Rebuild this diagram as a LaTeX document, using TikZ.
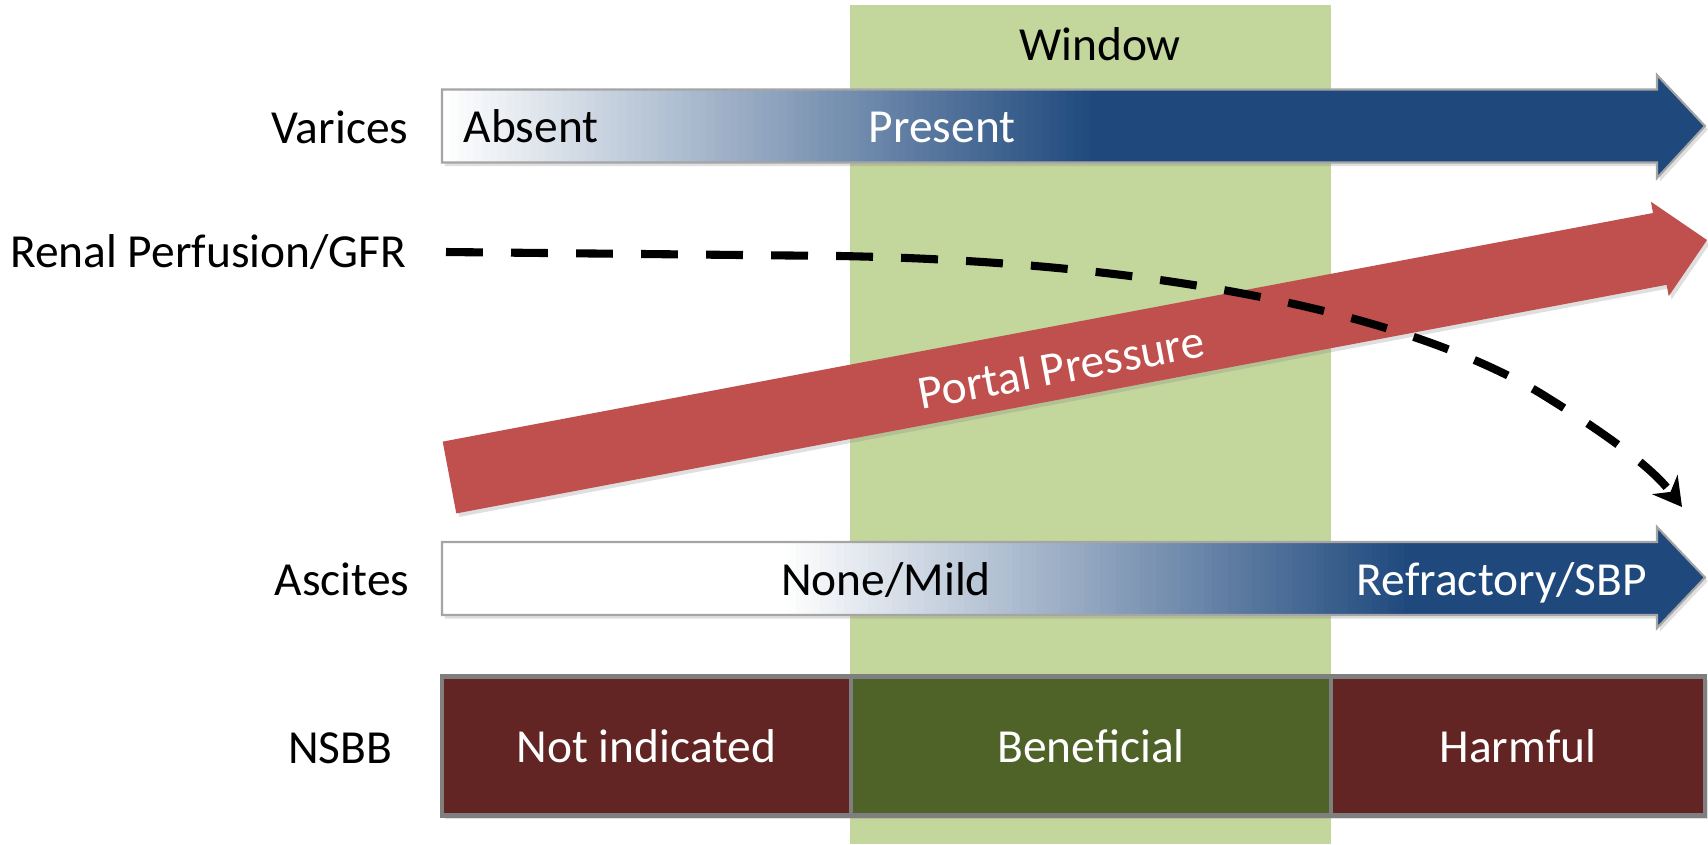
\documentclass[tikz,border=0pt]{standalone}
\usepackage{fontspec}
\setmainfont{Carlito}
\usetikzlibrary{arrows.meta,shadows}
\definecolor{winGreen}{HTML}{C3D69B}
\definecolor{ppBlue}{HTML}{1F497D}
\definecolor{ppRed}{HTML}{C0504D}
\definecolor{nsbbRed}{HTML}{632523}
\definecolor{nsbbGreen}{HTML}{4F6228}
\definecolor{rimGray}{HTML}{7F7F7F}

\begin{document}
\begin{tikzpicture}[x=0.1mm,y=-0.1mm,
		every node/.style={inner sep=0pt, font=\fontsize{13.5}{16}\selectfont},
		rowlabel/.style={anchor=base east},
		intext/.style={anchor=base},
		softshadow/.style={drop shadow={shadow xshift=0.8pt, shadow yshift=-1pt, opacity=0.25}},
		nsbbbox/.style={draw=rimGray, line width=1.4pt, text=white, minimum height=13.85mm, softshadow},
		bararrow/.style={draw=rimGray!70, line width=0.6pt, softshadow},
		gfrline/.style={line width=2.3pt, dash pattern=on 10.5pt off 8pt, -{Stealth[length=8pt, width=9pt]}}]
		\useasboundingbox (0,0) rectangle (1708,844);
		\fill [winGreen] (850,5) rectangle (1331,844);
		\node (window) at (1100,44) {Window};
		\path [bararrow, path picture={
			\foreach \i in {0,...,81} {
				\pgfmathsetmacro\p{\i*100/81}
				\fill [ppBlue!\p!white] ({442+\i*8},60) rectangle ({451+\i*8},190);}
			\fill [ppBlue] (1098,60) rectangle (1710,190);}]
			(442,89.5) -- (1657,89.5) -- (1657,75) -- (1705,126) -- (1657,178) -- (1657,162.5) -- (442,162.5) -- cycle;
		\fill [ppRed, softshadow] (442.7,441.6) -- (1653,213) -- (1650.9,201.7) -- (1707,240) -- (1668.7,296.1) -- (1666.6,284.8) -- (456.3,513.4) -- cycle;
		\node [rotate=10.7, text=white] (portal) at (1061,367) {Portal Pressure};
		\coordinate (gfrstart) at (446,252);
		\coordinate (gfrend) at (1682,507);
		\draw [gfrline] (gfrstart) -- (840,256) .. controls (1150,262) and (1400,310) .. (1540,393) .. controls (1600,430) and (1650,465) .. (gfrend);
		\path [bararrow, path picture={
			\fill [white] (430,510) rectangle (781,650);
			\foreach \i in {0,...,78} {
				\pgfmathsetmacro\p{\i*100/78}
				\fill [ppBlue!\p!white] ({780+\i*8},510) rectangle ({789+\i*8},650);}
			\fill [ppBlue] (1408,510) rectangle (1710,650);}]
			(442,542) -- (1657,542) -- (1657,527) -- (1705,577.5) -- (1657,628) -- (1657,615) -- (442,615) -- cycle;
		\node [rowlabel] (varices) at (409,143) {Varices};
		\node [rowlabel] (renal) at (407,267) {Renal Perfusion/GFR};
		\node [rowlabel] (ascites) at (410,595) {Ascites};
		\node [rowlabel] (nsbb) at (393,763) {NSBB};
		\node [anchor=base west] (absent) at (463,142) {Absent};
		\node [intext, text=white] (present) at (942,142) {Present};
		\node [intext] (nonemild) at (886,595) {None/Mild};
		\node [intext, text=white] (refract) at (1502,595) {Refractory/SBP};
		\node [nsbbbox, fill=nsbbRed, minimum width=40.9mm] (notind) at (646.5,746) {Not indicated};
		\node [nsbbbox, fill=nsbbGreen, minimum width=48mm] (benef) at (1091,746) {Beneficial};
		\node [nsbbbox, fill=nsbbRed, minimum width=37.4mm] (harm) at (1518,746) {Harmful};
\end{tikzpicture}
\end{document}
